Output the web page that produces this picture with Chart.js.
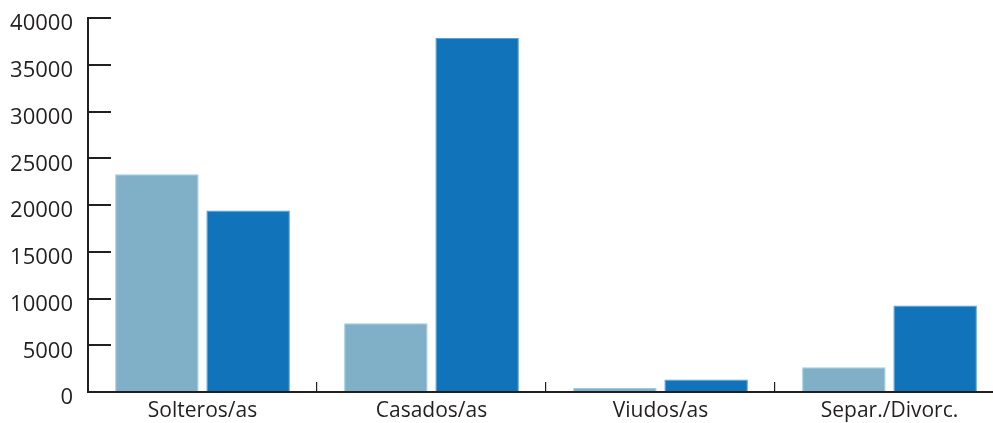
<!DOCTYPE html>
<html>
<head>
<meta charset="utf-8">
<script src="https://cdn.jsdelivr.net/npm/chart.js@4/dist/chart.umd.min.js"></script>
<style>
html,body{margin:0;padding:0;background:#fff;overflow:hidden;}
#wrap{width:1006px;height:423px;position:relative;}
</style>
</head>
<body>
<div id="wrap"><canvas id="c"></canvas></div>
<script>
const categories = ["Solteros/as", "Casados/as", "Viudos/as", "Separ./Divorc."];
const seriesA = [23300, 7350, 420, 2650];
const seriesB = [19400, 37850, 1350, 9250];
const yTicks = [0, 5000, 10000, 15000, 20000, 25000, 30000, 35000, 40000];

const textColor = '#231f20';
new Chart(document.getElementById('c'), {
  type: 'bar',
  data: {
    labels: categories,
    datasets: [
      { label: 'A', data: seriesA, backgroundColor: '#7fb0c8', borderColor: '#9ccbe0', borderWidth: 1,
        categoryPercentage: 0.797, barPercentage: 0.915 },
      { label: 'B', data: seriesB, backgroundColor: '#1174bb', borderColor: '#5e9fd0', borderWidth: 1,
        categoryPercentage: 0.797, barPercentage: 0.915 }
    ]
  },
  options: {
    responsive: true,
    maintainAspectRatio: false,
    animation: false,
    layout: { padding: { left: 0, right: 2, top: 18, bottom: 0 } },
    plugins: { legend: { display: false }, tooltip: { enabled: false } },
    scales: {
      x: {
        grid: { display: true, drawOnChartArea: false, offset: true, tickLength: -10, color: '#231f20', lineWidth: 1.2 },
        border: { display: true, color: '#231f20', width: 2 },
        ticks: { color: textColor, font: { family: 'Open Sans', size: 21 }, padding: 16, maxRotation: 0 },
        afterFit: s => { s.height = 31; s.paddingLeft = 0; s.paddingRight = 0; }
      },
      y: {
        min: 0, max: 40000,
        afterBuildTicks: s => { s.ticks = yTicks.map(v => ({ value: v })); },
        grid: { display: true, drawOnChartArea: false, tickLength: -23, color: '#231f20', lineWidth: 2 },
        border: { display: true, color: '#231f20', width: 2 },
        ticks: { color: textColor, font: { family: 'Open Sans', size: 22 }, padding: 38, labelOffset: 6,
                 callback: v => String(v) },
        afterFit: s => { s.width = 88; s.paddingTop = 0; s.paddingBottom = 0; }
      }
    }
  }
});
</script>
</body>
</html>
